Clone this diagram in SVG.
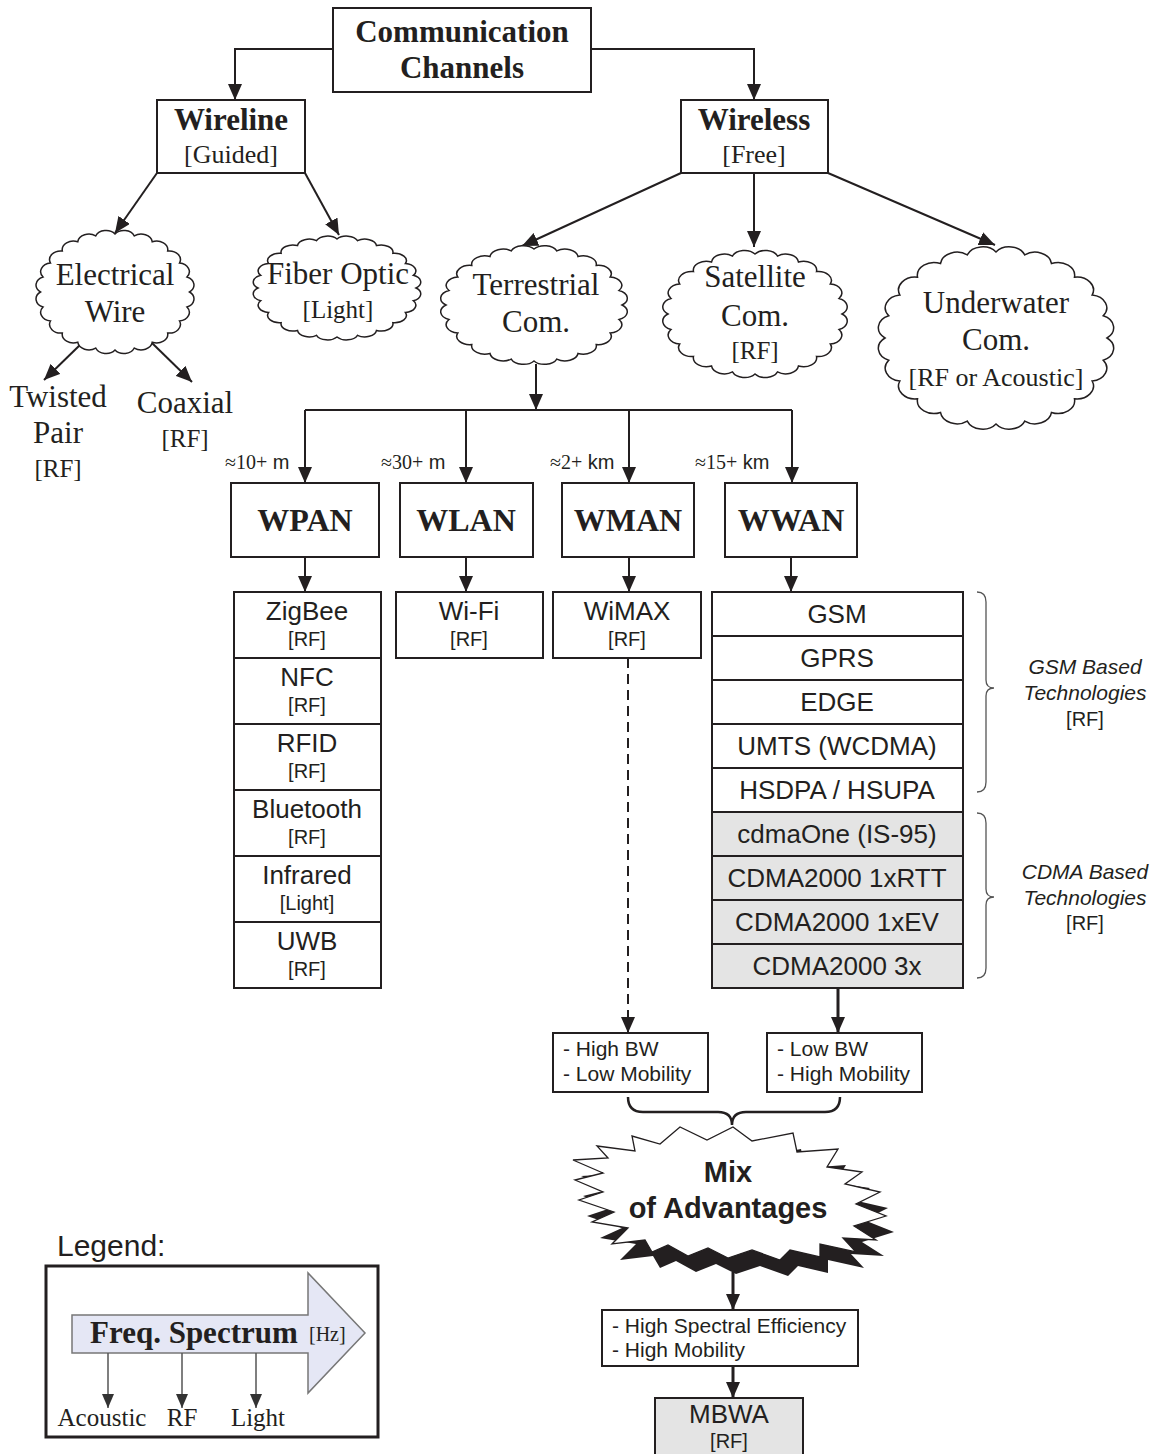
<svg xmlns="http://www.w3.org/2000/svg" width="1152" height="1454" viewBox="0 0 1152 1454">
<style>
.box{fill:#fff;stroke:#231f20;stroke-width:2}
.gray{fill:#e4e4e4}
.ser{font-family:"Liberation Serif","Times New Roman",serif;fill:#231f20;text-anchor:middle}
.sans{font-family:"Liberation Sans",Arial,sans-serif;fill:#231f20;text-anchor:middle}
.b{font-weight:bold}
.l{text-anchor:start}
.conn{stroke:#231f20;stroke-width:2;fill:none;marker-end:url(#ah)}
.thick{stroke-width:3}
.cl{fill:#fff;stroke:#231f20;stroke-width:1.5}
.brace{fill:none;stroke:#555;stroke-width:1.3}
</style>
<defs>
<marker id="ah" markerUnits="userSpaceOnUse" markerWidth="16" markerHeight="14" refX="16" refY="7" orient="auto">
<path d="M0,0 L16,7 L0,14 Z" fill="#231f20"/>
</marker>
<marker id="ahg" markerUnits="userSpaceOnUse" markerWidth="14" markerHeight="12" refX="14" refY="6" orient="auto">
<path d="M0,0 L14,6 L0,12 Z" fill="#333"/>
</marker>
<path id="cloud" vector-effect="non-scaling-stroke" d="M100,0 A15,15 0 0 1 96.6,25.9 A15,15 0 0 1 86.6,50 A15,15 0 0 1 70.7,70.7 A15,15 0 0 1 50,86.6 A15,15 0 0 1 25.9,96.6 A15,15 0 0 1 0,100 A15,15 0 0 1 -25.9,96.6 A15,15 0 0 1 -50,86.6 A15,15 0 0 1 -70.7,70.7 A15,15 0 0 1 -86.6,50 A15,15 0 0 1 -96.6,25.9 A15,15 0 0 1 -100,0 A15,15 0 0 1 -96.6,-25.9 A15,15 0 0 1 -86.6,-50 A15,15 0 0 1 -70.7,-70.7 A15,15 0 0 1 -50,-86.6 A15,15 0 0 1 -25.9,-96.6 A15,15 0 0 1 0,-100 A15,15 0 0 1 25.9,-96.6 A15,15 0 0 1 50,-86.6 A15,15 0 0 1 70.7,-70.7 A15,15 0 0 1 86.6,-50 A15,15 0 0 1 96.6,-25.9 A15,15 0 0 1 100,0 Z"/>
<polygon id="star" points="733,1127 752,1141 793,1133 797,1152 838,1149 827,1167 862,1172 845,1184 880,1192 856,1204 886,1216 854,1226 876,1240 843,1238 856,1252 820,1244 820,1257 790,1250 780,1260 752,1250 728,1258 708,1248 688,1256 668,1245 652,1252 645,1240 612,1244 628,1228 592,1222 614,1212 579,1200 603,1192 575,1180 603,1173 573,1160 608,1158 597,1146 635,1151 632,1136 660,1144 680,1127 707,1140"/>
</defs>
<rect width="1152" height="1454" fill="#fff"/>

<g id="connectors">
<polyline class="conn" points="333,49 235,49 235,100"/>
<polyline class="conn" points="591,49 754,49 754,100"/>
<line class="conn" x1="157" y1="173" x2="115" y2="233"/>
<line class="conn" x1="305" y1="173" x2="339" y2="235"/>
<line class="conn" x1="82" y1="343" x2="44" y2="380"/>
<line class="conn" x1="152" y1="343" x2="192" y2="382"/>
<line class="conn" x1="681" y1="173" x2="522" y2="246"/>
<line class="conn" x1="754" y1="173" x2="754" y2="247"/>
<line class="conn" x1="828" y1="173" x2="995" y2="245"/>
<line class="conn" x1="536" y1="364" x2="536" y2="410"/>
<polyline fill="none" stroke="#231f20" stroke-width="2" points="305,410 792,410"/>
<line class="conn" x1="305" y1="410" x2="305" y2="483"/>
<line class="conn" x1="466" y1="410" x2="466" y2="483"/>
<line class="conn" x1="629" y1="410" x2="629" y2="483"/>
<line class="conn" x1="792" y1="410" x2="792" y2="483"/>
<line class="conn" x1="305" y1="557" x2="305" y2="592"/>
<line class="conn" x1="466" y1="557" x2="466" y2="592"/>
<line class="conn" x1="629" y1="557" x2="629" y2="592"/>
<line class="conn" x1="791" y1="557" x2="791" y2="592"/>
<line class="conn" x1="628" y1="658" x2="628" y2="1033" stroke-dasharray="10,6"/>
<line class="conn thick" x1="838" y1="988" x2="838" y2="1033"/>
<path d="M628,1097 Q628,1112 643,1112 L718,1112 Q732,1112 732,1125 Q732,1112 746,1112 L825,1112 Q840,1112 840,1097" fill="none" stroke="#231f20" stroke-width="2.5"/>
<line class="conn thick" x1="733" y1="1272" x2="733" y2="1310"/>
<line class="conn thick" x1="733" y1="1366" x2="733" y2="1398"/>
</g>

<g id="comm">
<rect class="box" x="333" y="8" width="258" height="84"/>
<text class="ser b" x="462" y="42" font-size="31">Communication</text>
<text class="ser b" x="462" y="78" font-size="31">Channels</text>
</g>
<g id="wireline">
<rect class="box" x="157" y="100" width="148" height="73"/>
<text class="ser b" x="231" y="130" font-size="31">Wireline</text>
<text class="ser" x="231" y="163" font-size="26">[Guided]</text>
</g>
<g id="wireless">
<rect class="box" x="681" y="100" width="147" height="73"/>
<text class="ser b" x="754" y="130" font-size="31">Wireless</text>
<text class="ser" x="754" y="163" font-size="26">[Free]</text>
</g>

<g id="electrical">
<use href="#cloud" class="cl" transform="translate(115,292) scale(0.745,0.58)"/>
<text class="ser" x="115" y="285" font-size="31">Electrical</text>
<text class="ser" x="115" y="322" font-size="31">Wire</text>
</g>
<g id="fiber">
<use href="#cloud" class="cl" transform="translate(337,288) scale(0.79,0.49)"/>
<text class="ser" x="338" y="284" font-size="31">Fiber Optic</text>
<text class="ser" x="338" y="318" font-size="25">[Light]</text>
</g>
<g id="terrestrial">
<use href="#cloud" class="cl" transform="translate(534,305) scale(0.88,0.56)"/>
<text class="ser" x="536" y="295" font-size="31">Terrestrial</text>
<text class="ser" x="536" y="332" font-size="31">Com.</text>
</g>
<g id="satellite">
<use href="#cloud" class="cl" transform="translate(755,314) scale(0.87,0.6)"/>
<text class="ser" x="755" y="287" font-size="31">Satellite</text>
<text class="ser" x="755" y="326" font-size="31">Com.</text>
<text class="ser" x="755" y="359" font-size="25">[RF]</text>
</g>
<g id="underwater">
<use href="#cloud" class="cl" transform="translate(996,338) scale(1.11,0.86)"/>
<text class="ser" x="996" y="313" font-size="31">Underwater</text>
<text class="ser" x="996" y="350" font-size="31">Com.</text>
<text class="ser" x="996" y="386" font-size="26">[RF or Acoustic]</text>
</g>

<g id="twisted">
<text class="ser" x="58" y="407" font-size="31">Twisted</text>
<text class="ser" x="58" y="443" font-size="31">Pair</text>
<text class="ser" x="58" y="477" font-size="25">[RF]</text>
</g>
<g id="coaxial">
<text class="ser" x="185" y="413" font-size="31">Coaxial</text>
<text class="ser" x="185" y="447" font-size="25">[RF]</text>
</g>

<g id="distances" font-size="20">
<text class="ser l" x="225" y="469">≈10+<tspan font-family="Liberation Sans, Arial, sans-serif"> m</tspan></text>
<text class="ser l" x="381" y="469">≈30+<tspan font-family="Liberation Sans, Arial, sans-serif"> m</tspan></text>
<text class="ser l" x="550" y="469">≈2+<tspan font-family="Liberation Sans, Arial, sans-serif"> km</tspan></text>
<text class="ser l" x="695" y="469">≈15+<tspan font-family="Liberation Sans, Arial, sans-serif"> km</tspan></text>
</g>

<g id="wpan">
<rect class="box" x="231" y="483" width="148" height="74"/>
<text class="ser b" x="305" y="531" font-size="32">WPAN</text>
</g>
<g id="wlan">
<rect class="box" x="400" y="483" width="133" height="74"/>
<text class="ser b" x="466" y="531" font-size="32">WLAN</text>
</g>
<g id="wman">
<rect class="box" x="562" y="483" width="132" height="74"/>
<text class="ser b" x="628" y="531" font-size="32">WMAN</text>
</g>
<g id="wwan">
<rect class="box" x="725" y="483" width="132" height="74"/>
<text class="ser b" x="791" y="531" font-size="32">WWAN</text>
</g>

<g id="wpan-tech">
<rect class="box" x="234" y="592" width="147" height="66"/>
<rect class="box" x="234" y="658" width="147" height="66"/>
<rect class="box" x="234" y="724" width="147" height="66"/>
<rect class="box" x="234" y="790" width="147" height="66"/>
<rect class="box" x="234" y="856" width="147" height="66"/>
<rect class="box" x="234" y="922" width="147" height="66"/>
<g class="sans" font-size="26">
<text x="307" y="620">ZigBee</text>
<text x="307" y="686">NFC</text>
<text x="307" y="752">RFID</text>
<text x="307" y="818">Bluetooth</text>
<text x="307" y="884">Infrared</text>
<text x="307" y="950">UWB</text>
</g>
<g class="sans" font-size="20">
<text x="307" y="646">[RF]</text>
<text x="307" y="712">[RF]</text>
<text x="307" y="778">[RF]</text>
<text x="307" y="844">[RF]</text>
<text x="307" y="910">[Light]</text>
<text x="307" y="976">[RF]</text>
</g>
</g>
<g id="wifi">
<rect class="box" x="396" y="592" width="147" height="66"/>
<text class="sans" x="469" y="620" font-size="26">Wi-Fi</text>
<text class="sans" x="469" y="646" font-size="20">[RF]</text>
</g>
<g id="wimax">
<rect class="box" x="553" y="592" width="148" height="66"/>
<text class="sans" x="627" y="620" font-size="26">WiMAX</text>
<text class="sans" x="627" y="646" font-size="20">[RF]</text>
</g>

<g id="wwan-tech">
<rect class="box" x="712" y="592" width="251" height="44"/>
<rect class="box" x="712" y="636" width="251" height="44"/>
<rect class="box" x="712" y="680" width="251" height="44"/>
<rect class="box" x="712" y="724" width="251" height="44"/>
<rect class="box" x="712" y="768" width="251" height="44"/>
<rect class="box gray" x="712" y="812" width="251" height="44"/>
<rect class="box gray" x="712" y="856" width="251" height="44"/>
<rect class="box gray" x="712" y="900" width="251" height="44"/>
<rect class="box gray" x="712" y="944" width="251" height="44"/>
<g class="sans" font-size="26">
<text x="837" y="623">GSM</text>
<text x="837" y="667">GPRS</text>
<text x="837" y="711">EDGE</text>
<text x="837" y="755">UMTS (WCDMA)</text>
<text x="837" y="799">HSDPA / HSUPA</text>
<text x="837" y="843">cdmaOne (IS-95)</text>
<text x="837" y="887">CDMA2000 1xRTT</text>
<text x="837" y="931">CDMA2000 1xEV</text>
<text x="837" y="975">CDMA2000 3x</text>
</g>
</g>

<g id="gsm-group">
<path class="brace" d="M977,592 Q986,592 986,602 L986,680 Q986,688 994,688 Q986,688 986,696 L986,782 Q986,792 977,792"/>
<text class="sans" x="1085" y="674" font-size="21" font-style="italic">GSM Based</text>
<text class="sans" x="1085" y="700" font-size="21" font-style="italic">Technologies</text>
<text class="sans" x="1085" y="726" font-size="20">[RF]</text>
</g>
<g id="cdma-group">
<path class="brace" d="M977,813 Q986,813 986,823 L986,889 Q986,897 994,897 Q986,897 986,905 L986,968 Q986,978 977,978"/>
<text class="sans" x="1085" y="879" font-size="21" font-style="italic">CDMA Based</text>
<text class="sans" x="1085" y="905" font-size="21" font-style="italic">Technologies</text>
<text class="sans" x="1085" y="930" font-size="20">[RF]</text>
</g>

<g id="highbw">
<rect class="box" x="553" y="1033" width="155" height="59"/>
<text class="sans l" x="563" y="1056" font-size="21">- High BW</text>
<text class="sans l" x="563" y="1081" font-size="21">- Low Mobility</text>
</g>
<g id="lowbw">
<rect class="box" x="767" y="1033" width="155" height="59"/>
<text class="sans l" x="777" y="1056" font-size="21">- Low BW</text>
<text class="sans l" x="777" y="1081" font-size="21">- High Mobility</text>
</g>

<g id="mix">
<use href="#star" fill="#231f20" transform="translate(8,16)"/>
<use href="#star" fill="#fff" stroke="#231f20" stroke-width="1.3"/>
<text class="sans b" x="728" y="1182" font-size="29">Mix</text>
<text class="sans b" x="728" y="1218" font-size="29">of Advantages</text>
</g>

<g id="spectral">
<rect class="box" x="602" y="1310" width="256" height="56"/>
<text class="sans l" x="612" y="1333" font-size="21">- High Spectral Efficiency</text>
<text class="sans l" x="612" y="1357" font-size="21">- High Mobility</text>
</g>

<g id="mbwa">
<rect class="box gray" x="655" y="1398" width="148" height="62"/>
<text class="sans" x="729" y="1423" font-size="26">MBWA</text>
<text class="sans" x="729" y="1448" font-size="20">[RF]</text>
</g>

<g id="legend">
<text class="sans l" x="57" y="1256" font-size="30">Legend:</text>
<rect x="46" y="1266" width="332" height="171" fill="#fff" stroke="#231f20" stroke-width="3"/>
<path d="M72,1315 L308,1315 L308,1273 L365,1333 L308,1393 L308,1353 L72,1353 Z" fill="#e5e7f5" stroke="#777" stroke-width="1.5"/>
<text class="ser b l" x="90" y="1343" font-size="31">Freq. Spectrum</text>
<text class="ser l" x="309" y="1341" font-size="20">[Hz]</text>
<line x1="108" y1="1353" x2="108" y2="1408" stroke="#555" stroke-width="1.5" marker-end="url(#ahg)"/>
<line x1="182" y1="1353" x2="182" y2="1408" stroke="#555" stroke-width="1.5" marker-end="url(#ahg)"/>
<line x1="256" y1="1353" x2="256" y2="1408" stroke="#555" stroke-width="1.5" marker-end="url(#ahg)"/>
<text class="ser" x="102" y="1426" font-size="25">Acoustic</text>
<text class="ser" x="182" y="1426" font-size="25">RF</text>
<text class="ser" x="258" y="1426" font-size="25">Light</text>
</g>
</svg>
